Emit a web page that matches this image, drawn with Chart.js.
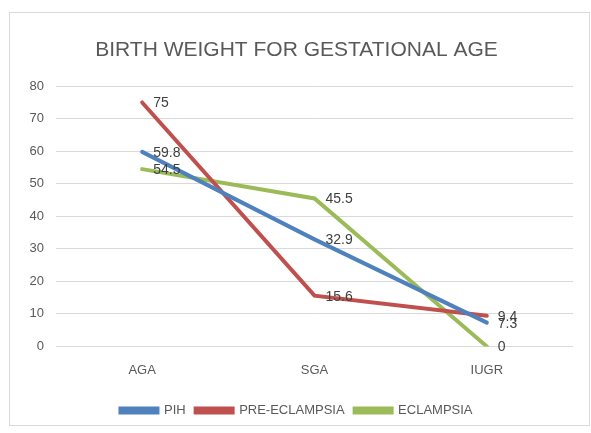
<!DOCTYPE html>
<html>
<head>
<meta charset="utf-8">
<script src="https://cdn.jsdelivr.net/npm/chart.js@4/dist/chart.umd.min.js"></script>
<style>
  html, body { margin: 0; padding: 0; background: #fff; }
  #wrap { position: relative; width: 591px; height: 433px; }
  #frame { position: absolute; left: 9px; top: 12px; width: 579px; height: 412px; border: 1px solid #d9d9d9; }
  #chart { position: absolute; left: 0; top: 0; }
</style>
</head>
<body>
<div id="wrap">
  <div id="frame"></div>
  <canvas id="chart" width="591" height="433"></canvas>
</div>
<script>
const categories = ['AGA', 'SGA', 'IUGR'];
const pih = [59.8, 32.9, 7.3];
const preEclampsia = [75, 15.6, 9.4];
const eclampsia = [54.5, 45.5, 0];
const yTicks = [0, 10, 20, 30, 40, 50, 60, 70, 80];

const FONT = "'Liberation Sans', Arial, sans-serif";

// draws the value next to each point, like the office chart does
const valueLabels = {
    id: 'valueLabels',
    afterDatasetsDraw(chart) {
        const ctx = chart.ctx;
        ctx.save();
        ctx.font = '14px ' + FONT;
        ctx.fillStyle = '#404040';
        ctx.textAlign = 'left';
        ctx.textBaseline = 'middle';
        chart.data.datasets.forEach((ds, i) => {
            chart.getDatasetMeta(i).data.forEach((pt, j) => {
                ctx.fillText(String(ds.data[j]), pt.x + 11, pt.y + 1);
            });
        });
        ctx.restore();
    }
};

const ctx = document.getElementById('chart').getContext('2d');
new Chart(ctx, {
    type: 'line',
    data: {
        labels: categories,
        datasets: [
            { label: 'PIH', data: pih, borderColor: '#4F81BD', backgroundColor: '#4F81BD' },
            { label: 'PRE-ECLAMPSIA', data: preEclampsia, borderColor: '#C0504D', backgroundColor: '#C0504D' },
            { label: 'ECLAMPSIA', data: eclampsia, borderColor: '#9BBB59', backgroundColor: '#9BBB59' }
        ]
    },
    options: {
        responsive: false,
        animation: false,
        layout: { padding: { left: 20, right: 18, top: 0, bottom: 6 } },
        elements: {
            line: { borderWidth: 4, tension: 0, borderCapStyle: 'round' },
            point: { radius: 0, hoverRadius: 0 }
        },
        scales: {
            x: {
                offset: true,
                grid: { display: false, drawTicks: false },
                border: { display: false },
                ticks: { padding: 16, color: '#595959', font: { family: FONT, size: 13 } }
            },
            y: {
                min: 0,
                max: 80,
                afterBuildTicks: s => { s.ticks = yTicks.map(v => ({ value: v })); },
                afterFit: s => { s.width = 36; },
                grid: { color: '#d9d9d9', lineWidth: 1, drawTicks: false },
                border: { display: false },
                ticks: { padding: 12, color: '#595959', font: { family: FONT, size: 13 } }
            }
        },
        plugins: {
            title: {
                display: true,
                text: 'BIRTH WEIGHT FOR GESTATIONAL AGE',
                color: '#595959',
                font: { family: FONT, size: 21, weight: 'normal' },
                padding: { top: 38, bottom: 23 }
            },
            legend: {
                position: 'bottom',
                labels: {
                    boxWidth: 37,
                    boxHeight: 4,
                    padding: 10,
                    color: '#595959',
                    font: { family: FONT, size: 13 }
                }
            },
            tooltip: { enabled: false }
        }
    },
    plugins: [valueLabels]
});
</script>
</body>
</html>
